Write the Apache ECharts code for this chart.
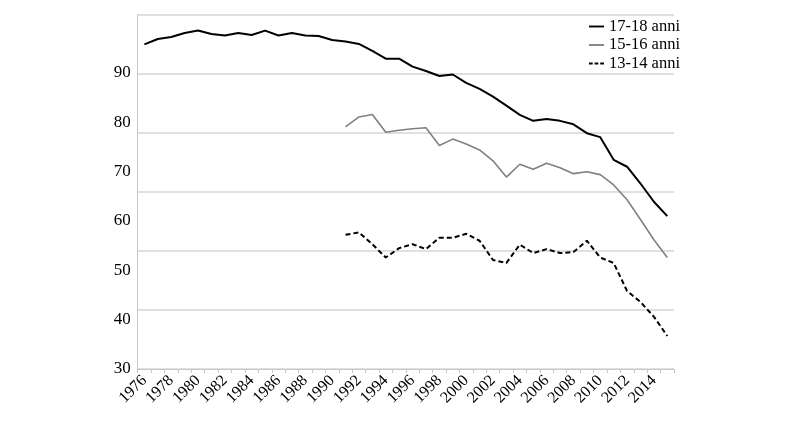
<!DOCTYPE html>
<html>
<head>
<meta charset="utf-8">
<script src="https://cdn.jsdelivr.net/npm/echarts@6/dist/echarts.min.js"></script>
<style>
  html, body { margin: 0; padding: 0; background: #fff; }
  #container { width: 800px; height: 423px; }
</style>
</head>
<body>
<div id="container"></div>
<script>
var years = [];
for (var y = 1976; y <= 2015; y++) years.push(String(y));

var pad15 = [null, null, null, null, null, null, null, null, null, null, null, null, null, null, null];

var anni1718 = [95.8, 96.9, 97.3, 98.1, 98.6, 97.9, 97.6, 98.1, 97.7, 98.6,
                97.6, 98.1, 97.6, 97.5, 96.7, 96.4, 95.9, 94.5, 92.9, 92.9,
                91.3, 90.4, 89.4, 89.7, 88.0, 86.8, 85.2, 83.4, 81.5, 80.3,
                80.7, 80.3, 79.6, 77.8, 77.0, 72.4, 71.0, 67.6, 63.9, 61.0];

var anni1516 = pad15.concat([79.1, 81.1, 81.6, 78.0, 78.4, 78.7, 78.9, 75.3, 76.6, 75.6,
                74.4, 72.2, 68.9, 71.5, 70.5, 71.7, 70.8, 69.6, 70.0, 69.4,
                67.3, 64.3, 60.3, 56.2, 52.6]);

var anni1314 = pad15.concat([57.2, 57.7, 55.3, 52.6, 54.5, 55.3, 54.3, 56.6, 56.6, 57.4,
                56.0, 52.1, 51.5, 55.2, 53.5, 54.3, 53.5, 53.7, 56.0, 52.6,
                51.5, 45.8, 43.6, 40.6, 36.7]);

var seriesNames = ['17-18 anni', '15-16 anni', '13-14 anni'];
var yLabels = [30, 40, 50, 60, 70, 80, 90];

var font = '"Liberation Serif", "DejaVu Serif", serif';
var solidIcon = 'path://M0,0h16v2h-16z';
var dashIcon = 'path://M0,0h4v2h-4zM6,0h4v2h-4zM12,0h4v2h-4z';

var myChart = echarts.init(document.getElementById('container'), null, { renderer: 'canvas' });

var option = {
  animation: false,
  backgroundColor: '#fff',
  textStyle: { fontFamily: font },
  grid: { left: 137.7, right: 126, top: 14.5, bottom: 54 },
  legend: {
    orient: 'vertical',
    right: 115,
    top: 13,
    itemWidth: 15,
    itemHeight: 2,
    itemGap: 1.5,
    align: 'left',
    textStyle: { fontFamily: font, fontSize: 16.5, color: '#000' },
    data: [
      { name: seriesNames[0], icon: solidIcon },
      { name: seriesNames[1], icon: solidIcon },
      { name: seriesNames[2], icon: dashIcon }
    ]
  },
  xAxis: {
    type: 'category',
    data: years,
    boundaryGap: true,
    axisLine: { lineStyle: { color: '#c8c8c8', width: 1 } },
    axisTick: { show: true, interval: 0, length: 4, lineStyle: { color: '#c8c8c8' } },
    axisLabel: {
      interval: 1,
      rotate: 45,
      margin: 9,
      fontFamily: font,
      fontSize: 16,
      color: '#000'
    },
    splitLine: { show: false }
  },
  yAxis: [
    {
      type: 'value',
      min: 30,
      max: 101.86,
      interval: 10,
      axisLine: { show: true, lineStyle: { color: '#c8c8c8', width: 1 } },
      axisTick: { show: false },
      splitLine: { show: false },
      axisLabel: {
        margin: 7,
        fontFamily: font,
        fontSize: 17,
        color: '#000',
        formatter: function (v) {
          return yLabels.indexOf(v) >= 0 ? String(v) : '';
        }
      }
    },
    {
      // gridlines only
      type: 'value',
      min: 0,
      max: 6,
      interval: 1,
      position: 'left',
      axisLine: { show: false },
      axisTick: { show: false },
      axisLabel: { show: false },
      splitLine: { show: true, lineStyle: { color: '#d6d6d6', width: 1.5 } }
    }
  ],
  series: [
    {
      name: seriesNames[0],
      type: 'line',
      data: anni1718,
      symbol: 'none',
      color: '#000',
      lineStyle: { color: '#000', width: 2 }
    },
    {
      name: seriesNames[1],
      type: 'line',
      data: anni1516,
      symbol: 'none',
      color: '#808080',
      lineStyle: { color: '#808080', width: 1.6 }
    },
    {
      name: seriesNames[2],
      type: 'line',
      data: anni1314,
      symbol: 'none',
      color: '#000',
      lineStyle: { color: '#000', width: 2, type: [5, 3] }
    }
  ]
};

myChart.setOption(option);
window.addEventListener('resize', myChart.resize);
</script>
</body>
</html>
